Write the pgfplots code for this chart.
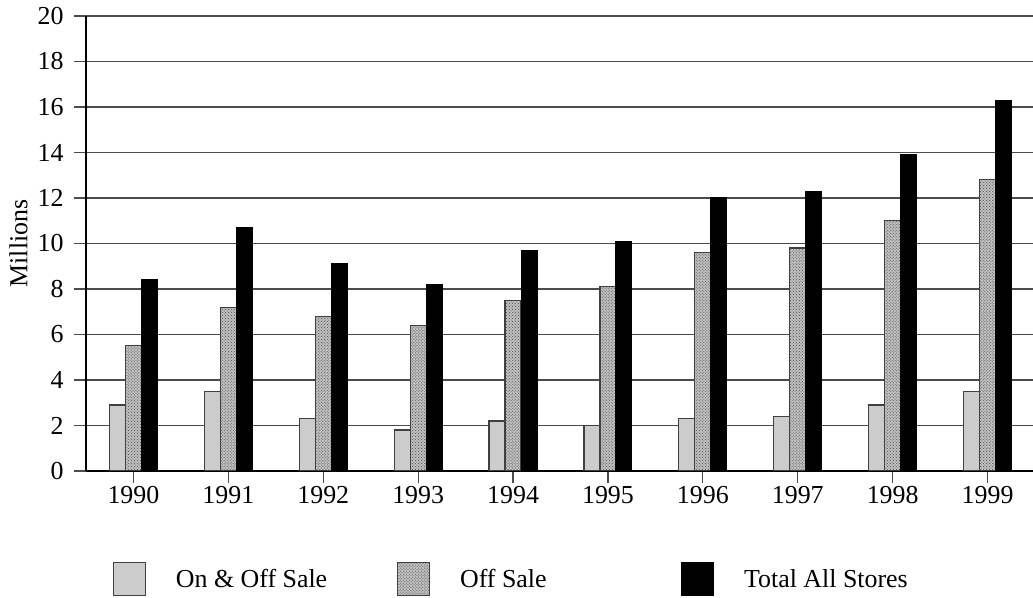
\documentclass[border=0pt]{standalone}
\usepackage{fontspec}
\setmainfont{Liberation Serif}
\usepackage{pgfplots}
\pgfplotsset{compat=1.18}
\usetikzlibrary{patterns}
\newcommand{\bigf}{\fontsize{26}{30}\selectfont}
\begin{document}
\begin{tikzpicture}
\useasboundingbox (0,0) rectangle (1033bp,598bp);
\begin{axis}[
  at={(86bp,127bp)}, anchor=south west,
  x=94.9bp, y=22.75bp,
  xmin=-0.5, xmax=9.48, ymin=0, ymax=20,
  axis x line=bottom, axis y line=left,
  axis line style={-, line width=1.2bp, black},
  ybar=0pt, bar width=16bp,
  xtick={0,...,9},
  xticklabels={1990,1991,1992,1993,1994,1995,1996,1997,1998,1999},
  ytick={0,2,...,20},
  tick align=outside,
  major tick length=12bp,
  tick style={line width=1.2bp, black!70},
  ymajorgrids, grid style={black!70, line width=1.4bp},
  ticklabel style={font=\bigf},
  yticklabel style={xshift=-7bp},
  /pgf/number format/assume math mode=true,
  ylabel={Millions}, ylabel style={font=\bigf, yshift=3bp},
  legend columns=3,
  legend style={draw=none, fill=none, font=\bigf,
    at={(0.028,-0.2)}, anchor=north west,
    column sep=0pt, inner sep=0pt,
    nodes={inner sep=0pt, anchor=west}},
  legend image code/.code={%
    \draw[#1] (0bp,-16.5bp) rectangle (32bp,16.5bp);
    \path (62bp,0bp);},
]
\addplot[fill=black!20, draw=black!75, line width=1.2bp] coordinates {
 (0,2.9) (1,3.5) (2,2.3) (3,1.8) (4,2.2) (5,2.0) (6,2.3) (7,2.4) (8,2.9) (9,3.5)};
\addplot[fill=black!25, draw=black!75, line width=1.2bp,
  postaction={pattern=crosshatch dots, pattern color=black!70}] coordinates {
 (0,5.5) (1,7.2) (2,6.8) (3,6.4) (4,7.5) (5,8.1) (6,9.6) (7,9.8) (8,11.0) (9,12.8)};
\addplot[fill=black, draw=black, line width=1bp] coordinates {
 (0,8.4) (1,10.7) (2,9.1) (3,8.2) (4,9.7) (5,10.1) (6,12.0) (7,12.3) (8,13.9) (9,16.3)};
\legend{\makebox[221bp][l]{On \& Off Sale},\makebox[221bp][l]{Off Sale},Total All Stores}
\end{axis}
\end{tikzpicture}
\end{document}
